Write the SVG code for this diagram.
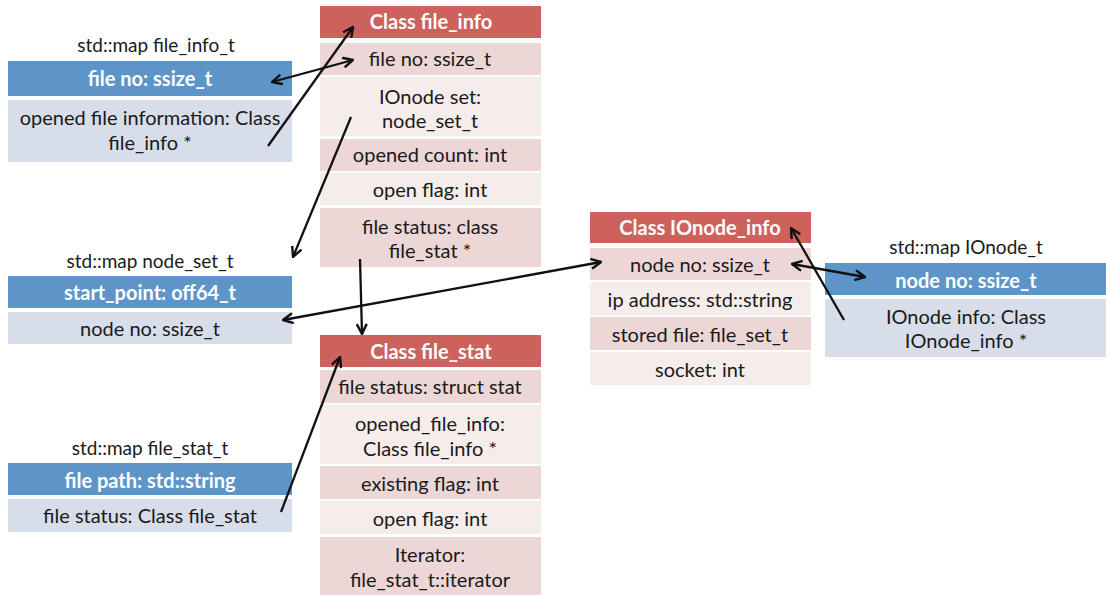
<svg xmlns="http://www.w3.org/2000/svg" width="1106" height="596" viewBox="0 0 1106 596">
  <style>
    text { font-family: Lato, "Open Sans", "Liberation Sans", sans-serif; font-size: 20px; text-anchor: middle; fill: #1a1a1a; }
    .hdr { fill: #cd625d; }
    .dk { fill: #ecd6d6; }
    .lt { fill: #f5ecec; }
    .key { fill: #5e95c8; }
    .val { fill: #d7dde9; }
    .ht { fill: #ffffff; font-weight: bold; }
    .cap { font-size: 19px; }
    .conn { stroke: #111; stroke-width: 2.3; fill: none; marker-end: url(#head); }
    .both { marker-start: url(#tail); }
  </style>
  <defs>
    <marker id="head" viewBox="0 0 12 12" refX="11" refY="6" markerWidth="12" markerHeight="12" markerUnits="userSpaceOnUse" orient="auto">
      <path d="M1,1 L11,6 L1,11" fill="none" stroke="#111" stroke-width="2.4"/>
    </marker>
    <marker id="tail" viewBox="0 0 12 12" refX="1" refY="6" markerWidth="12" markerHeight="12" markerUnits="userSpaceOnUse" orient="auto">
      <path d="M11,1 L1,6 L11,11" fill="none" stroke="#111" stroke-width="2.4"/>
    </marker>
  </defs>

  <!-- std::map file_info_t -->
  <g id="map-file-info-t">
    <text x="156" y="52" class="cap">std::map file_info_t</text>
    <rect x="8" y="61" width="284" height="35" class="key"/>
    <text x="150" y="86" class="ht">file no: ssize_t</text>
    <rect x="8" y="100" width="284" height="62" class="val"/>
    <text x="150" y="125">opened file information: Class</text>
    <text x="150" y="150">file_info *</text>
  </g>

  <!-- Class file_info -->
  <g id="class-file-info">
    <rect x="320" y="6" width="221" height="32" class="hdr"/>
    <text x="431" y="29" class="ht">Class file_info</text>
    <rect x="320" y="43" width="221" height="32" class="dk"/>
    <text x="430" y="66">file no: ssize_t</text>
    <rect x="320" y="77" width="221" height="59" class="lt"/>
    <text x="430" y="104">IOnode set:</text>
    <text x="430" y="128">node_set_t</text>
    <rect x="320" y="139" width="221" height="32" class="dk"/>
    <text x="430" y="162">opened count: int</text>
    <rect x="320" y="173" width="221" height="32" class="lt"/>
    <text x="430" y="197">open flag: int</text>
    <rect x="320" y="208" width="221" height="59" class="dk"/>
    <text x="430" y="234">file status: class</text>
    <text x="430" y="258">file_stat *</text>
  </g>

  <!-- std::map node_set_t -->
  <g id="map-node-set-t">
    <text x="150" y="268" class="cap">std::map node_set_t</text>
    <rect x="8" y="276" width="284" height="32" class="key"/>
    <text x="150" y="300" class="ht">start_point: off64_t</text>
    <rect x="8" y="312" width="284" height="32" class="val"/>
    <text x="150" y="336">node no: ssize_t</text>
  </g>

  <!-- Class IOnode_info -->
  <g id="class-ionode-info">
    <rect x="590" y="212" width="221" height="31" class="hdr"/>
    <text x="700" y="235" class="ht">Class IOnode_info</text>
    <rect x="590" y="248" width="221" height="32" class="dk"/>
    <text x="700" y="272">node no: ssize_t</text>
    <rect x="590" y="282" width="221" height="33" class="lt"/>
    <text x="700" y="307">ip address: std::string</text>
    <rect x="590" y="317" width="221" height="33" class="dk"/>
    <text x="700" y="342">stored file: file_set_t</text>
    <rect x="590" y="352" width="221" height="33" class="lt"/>
    <text x="700" y="377">socket: int</text>
  </g>

  <!-- std::map IOnode_t -->
  <g id="map-ionode-t">
    <text x="966" y="254" class="cap">std::map IOnode_t</text>
    <rect x="825" y="263" width="281" height="32" class="key"/>
    <text x="966" y="288" class="ht">node no: ssize_t</text>
    <rect x="825" y="299" width="281" height="58" class="val"/>
    <text x="966" y="324">IOnode info: Class</text>
    <text x="966" y="348">IOnode_info *</text>
  </g>

  <!-- Class file_stat -->
  <g id="class-file-stat">
    <rect x="320" y="335" width="221" height="32" class="hdr"/>
    <text x="431" y="359" class="ht">Class file_stat</text>
    <rect x="320" y="370" width="221" height="33" class="dk"/>
    <text x="430" y="394">file status: struct stat</text>
    <rect x="320" y="405" width="221" height="59" class="lt"/>
    <text x="430" y="431">opened_file_info:</text>
    <text x="430" y="456">Class file_info *</text>
    <rect x="320" y="466" width="221" height="33" class="dk"/>
    <text x="430" y="491">existing flag: int</text>
    <rect x="320" y="501" width="221" height="33" class="lt"/>
    <text x="430" y="526">open flag: int</text>
    <rect x="320" y="537" width="221" height="58" class="dk"/>
    <text x="430" y="562">Iterator:</text>
    <text x="430" y="587">file_stat_t::iterator</text>
  </g>

  <!-- std::map file_stat_t -->
  <g id="map-file-stat-t">
    <text x="150" y="455" class="cap">std::map file_stat_t</text>
    <rect x="8" y="463" width="284" height="32" class="key"/>
    <text x="150" y="488" class="ht">file path: std::string</text>
    <rect x="8" y="499" width="284" height="33" class="val"/>
    <text x="150" y="523">file status: Class file_stat</text>
  </g>

  <!-- pointer / key links -->
  <g id="connectors">
    <line x1="272" y1="82" x2="353" y2="60" class="conn both"/>
    <line x1="268" y1="146" x2="353" y2="27" class="conn"/>
    <line x1="351" y1="117" x2="293" y2="257" class="conn"/>
    <line x1="283" y1="320" x2="601" y2="262" class="conn both"/>
    <line x1="360" y1="259" x2="362" y2="334" class="conn"/>
    <line x1="281" y1="512" x2="340" y2="357" class="conn"/>
    <line x1="792" y1="264" x2="865" y2="277" class="conn both"/>
    <line x1="844" y1="320" x2="791" y2="228" class="conn"/>
  </g>
</svg>
